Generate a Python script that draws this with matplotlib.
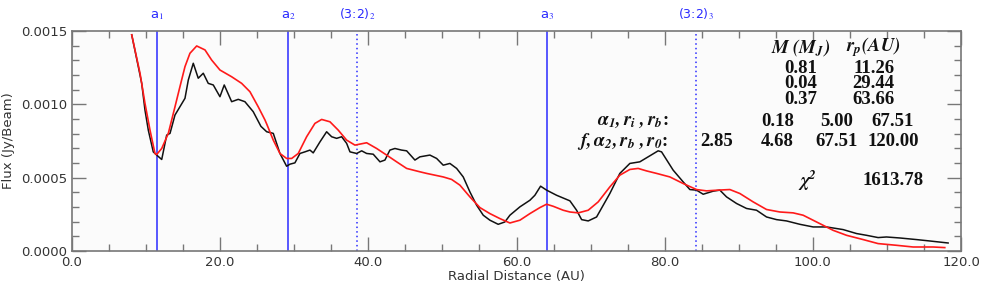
import numpy as np
import matplotlib
matplotlib.use('Agg')
import matplotlib.pyplot as plt
from matplotlib.ticker import MultipleLocator

# ── observed profile (black) ──
obs_r = [8.06, 8.95, 9.41, 9.85, 10.30, 10.97, 11.43, 12.11, 12.78, 13.23, 13.90,
         15.25, 15.70, 16.37, 17.04, 17.72, 18.39, 19.07, 19.97, 20.55, 21.55,
         22.44, 23.34, 24.46, 25.50, 26.28, 27.17, 28.07, 28.97, 29.42, 30.09,
         30.77, 31.44, 32.12, 32.56, 33.47, 34.37, 35.05, 35.72, 36.40, 37.07,
         37.52, 38.42, 39.10, 39.77, 40.66, 41.57, 42.24, 42.91, 43.59, 44.49,
         45.17, 46.29, 46.96, 48.31, 49.22, 50.11, 51.01, 51.92, 52.81, 53.71,
         54.62, 55.51, 56.41, 57.53, 58.43, 59.11, 60.46, 61.81, 62.48, 63.25,
         64.06, 65.41, 67.21, 68.11, 68.79, 69.68, 70.81, 72.60, 73.95, 75.30,
         76.65, 77.77, 79.12, 79.58, 81.15, 82.50, 83.40, 84.30, 85.20, 86.55,
         87.45, 88.35, 89.70, 91.05, 92.40, 93.75, 95.10, 96.45, 98.25, 100.04,
         101.85, 104.09, 105.90, 107.25, 108.81, 109.94, 111.74, 113.99, 115.79,
         118.26]
obs_flux = [1.474, 1.257, 1.143, 0.961, 0.824, 0.676, 0.654, 0.624, 0.790, 0.802, 0.927,
            1.041, 1.166, 1.280, 1.178, 1.212, 1.143, 1.132, 1.052, 1.132, 1.018,
            1.034, 1.018, 0.950, 0.850, 0.813, 0.802, 0.665, 0.578, 0.592, 0.601,
            0.665, 0.676, 0.688, 0.669, 0.744, 0.813, 0.779, 0.768, 0.779, 0.734,
            0.676, 0.665, 0.683, 0.665, 0.660, 0.608, 0.620, 0.688, 0.699, 0.688,
            0.683, 0.620, 0.642, 0.654, 0.631, 0.585, 0.597, 0.563, 0.505, 0.403,
            0.312, 0.244, 0.210, 0.182, 0.198, 0.244, 0.301, 0.346, 0.380, 0.442,
            0.415, 0.380, 0.342, 0.278, 0.214, 0.205, 0.232, 0.392, 0.529, 0.597,
            0.608, 0.642, 0.683, 0.676, 0.551, 0.471, 0.419, 0.415, 0.387, 0.408,
            0.415, 0.369, 0.324, 0.290, 0.278, 0.232, 0.214, 0.205, 0.182, 0.164,
            0.164, 0.146, 0.119, 0.107, 0.0915, 0.0956, 0.0888, 0.0779, 0.0683,
            0.0546]

# ── model profile (red) ──
mod_r = [8.06, 9.18, 9.85, 10.53, 11.20, 11.43, 12.11, 13.00, 13.90, 14.57, 15.25,
         15.92, 16.83, 17.95, 18.85, 19.97, 21.55, 22.90, 24.02, 25.14, 26.05,
         26.28, 27.17, 28.07, 28.97, 29.65, 30.54, 31.67, 32.79, 33.70, 34.82,
         35.94, 37.07, 38.19, 39.77, 41.12, 42.47, 43.82, 45.17, 46.96, 47.87,
         50.11, 51.24, 52.36, 53.71, 55.06, 56.41, 57.76, 59.11, 60.46, 61.81,
         63.16, 64.06, 64.95, 66.30, 67.21, 68.33, 69.68, 71.03, 72.60, 73.95,
         75.30, 76.42, 77.56, 78.91, 80.70, 82.50, 84.30, 85.65, 87.22, 88.80,
         90.15, 91.94, 93.75, 95.55, 97.34, 98.69, 100.50, 102.74, 104.55, 106.79,
         108.81, 111.29, 113.54, 114.89, 116.24, 117.81]
mod_flux = [1.474, 1.212, 1.007, 0.824, 0.665, 0.658, 0.699, 0.802, 0.983, 1.120, 1.257,
            1.348, 1.398, 1.371, 1.302, 1.234, 1.188, 1.143, 1.086, 0.983, 0.893,
            0.866, 0.756, 0.665, 0.631, 0.631, 0.665, 0.779, 0.870, 0.897, 0.881,
            0.824, 0.756, 0.722, 0.738, 0.699, 0.654, 0.608, 0.563, 0.540, 0.529,
            0.505, 0.488, 0.449, 0.369, 0.296, 0.255, 0.221, 0.191, 0.210, 0.255,
            0.296, 0.319, 0.305, 0.278, 0.266, 0.260, 0.278, 0.335, 0.437, 0.517,
            0.556, 0.563, 0.546, 0.529, 0.505, 0.460, 0.419, 0.410, 0.415, 0.419,
            0.392, 0.335, 0.283, 0.266, 0.260, 0.244, 0.198, 0.141, 0.107, 0.0779,
            0.0505, 0.0389, 0.0273, 0.0273, 0.0273, 0.0232]

# planet positions and 3:2 resonances
planet_r = [11.5, 29.2, 64.1]
planet_lbl = ['a$_1$', 'a$_2$', 'a$_3$']
res_r = [38.5, 84.2]
res_lbl = ['(3:2)$_2$', '(3:2)$_3$']

# fit parameters
mass = ['0.81', '0.04', '0.37']
rp = ['11.26', '29.44', '63.66']
row1 = ['0.18', '5.00', '67.51']
row2 = ['2.85', '4.68', '67.51', '120.00']
chi2 = '1613.78'

plt.rcParams['mathtext.fontset'] = 'stix'

fig = plt.figure(figsize=(9.81, 3.0), dpi=100)
fig.patch.set_facecolor('white')
ax = fig.add_axes([72/981, 49/300, 889/981, 220/300])
ax.set_facecolor('#fbfbfb')

ax.plot(obs_r, np.array(obs_flux) * 1e-3, color='#111111', lw=1.1, zorder=3)
ax.plot(mod_r, np.array(mod_flux) * 1e-3, color='#ff1a1a', lw=1.2, zorder=4)

blue = '#2b2bff'
for r, lbl in zip(planet_r, planet_lbl):
    ax.axvline(r, color=blue, lw=1.1, zorder=2)
    ax.text(r, 1.04, lbl, transform=ax.get_xaxis_transform(), color=blue,
            ha='center', va='bottom', fontsize=9.5)
for r, lbl in zip(res_r, res_lbl):
    ax.axvline(r, color=blue, lw=1.1, ls=(0, (1, 2)), zorder=2)
    ax.text(r, 1.04, lbl, transform=ax.get_xaxis_transform(), color=blue,
            ha='center', va='bottom', fontsize=9)

ax.set_xlim(0, 120)
ax.set_ylim(0, 0.0015)
ax.xaxis.set_major_locator(MultipleLocator(20))
ax.xaxis.set_minor_locator(MultipleLocator(5))
ax.yaxis.set_major_locator(MultipleLocator(0.0005))
ax.yaxis.set_minor_locator(MultipleLocator(0.0001))
ax.set_xticklabels([f'{v:.1f}' for v in ax.get_xticks()])
ax.set_yticklabels([f'{v:.4f}' for v in ax.get_yticks()])
ax.tick_params(which='both', direction='in', top=True, right=True,
               colors='#777777', labelcolor='#333333', labelsize=9.5)
ax.tick_params(which='major', length=10, width=1)
ax.tick_params(which='minor', length=5, width=1)
for s in ax.spines.values():
    s.set_color('#777777')
    s.set_linewidth(1.2)

ax.set_xlabel('Radial Distance (AU)', fontsize=9.5, color='#333333', labelpad=1)
ax.set_ylabel('Flux (Jy/Beam)', fontsize=9.5, color='#333333', labelpad=4)

# annotation block
tk = dict(transform=ax.transData, fontsize=13.5, fontweight='bold',
          family='Liberation Serif', color='#111111', va='center')
ax.text(98.4, 0.001390, r'$\mathbfit{M}\ \mathbfit{(M_J)}$', ha='center', **tk)
ax.text(108.2, 0.001390, r'$\mathbfit{r_p(AU)}$', ha='center', **tk)
for i, (m, r) in enumerate(zip(mass, rp)):
    y = 0.001245 - i * 0.000105
    ax.text(98.4, y, m, ha='center', **tk)
    ax.text(108.2, y, r, ha='center', **tk)
for x, v in zip([95.2, 103.2, 110.8], row1):
    ax.text(x, 0.000880, v, ha='center', **tk)
for x, v in zip([87.0, 95.2, 103.2, 110.8], row2):
    ax.text(x, 0.000750, v, ha='center', **tk)
ax.text(80.5, 0.000880, r'$\mathbfit{\alpha_1, r_i\ , r_b}$:', ha='right', **tk)
ax.text(80.5, 0.000750, r'$\mathbfit{f, \alpha_2, r_b\ , r_0}$:', ha='right', **tk)
ax.text(99.2, 0.000480, r'$\mathbfit{\chi^2}$', ha='center', **tk)
ax.text(110.8, 0.000480, chi2, ha='center', **tk)

fig.savefig('out.png', dpi=100, facecolor='white')
